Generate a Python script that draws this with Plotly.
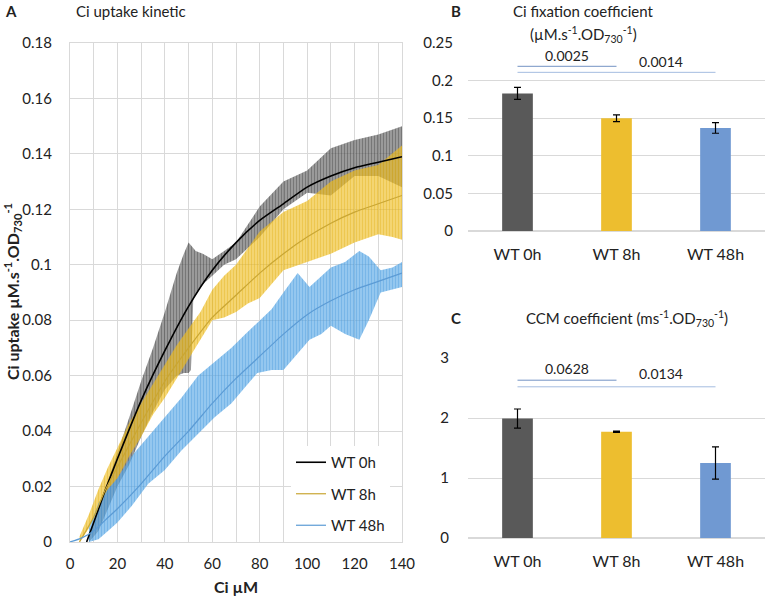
import plotly.graph_objects as go

FONT = "Lato"

# ---- Panel A: Ci uptake kinetic (fitted curves + error envelopes) ----
series_names = ["WT 0h", "WT 8h", "WT 48h"]

x_fit_0h = [7, 10, 15, 20, 30, 40, 50, 60, 70, 80, 90, 100, 110, 120, 130, 140]
y_fit_0h = [0, 0.007, 0.019, 0.030, 0.051, 0.069, 0.085, 0.098, 0.108,
            0.116, 0.122, 0.128, 0.132, 0.135, 0.137, 0.139]

x_fit_8h = [4, 10, 15, 20, 30, 40, 50, 60, 70, 80, 90, 100, 110, 120, 130, 140]
y_fit_8h = [0, 0.009, 0.019, 0.027, 0.043, 0.058, 0.070, 0.081, 0.089,
            0.097, 0.104, 0.110, 0.115, 0.119, 0.122, 0.125]

x_fit_48h = [0, 5, 10, 15, 20, 30, 40, 50, 60, 70, 80, 90, 100, 110, 120, 130, 140]
y_fit_48h = [0, 0.0015, 0.004, 0.008, 0.012, 0.021, 0.031, 0.040, 0.050, 0.059,
             0.067, 0.075, 0.082, 0.087, 0.091, 0.094, 0.097]

# envelopes (mean +/- error)
x_band_0h = [8, 12, 16, 20, 25, 30, 35, 40, 45, 48, 50, 51, 52, 53, 56, 60, 65, 70,
             80, 90, 100, 110, 120, 130, 140]
hi_band_0h = [0.003, 0.012, 0.022, 0.032, 0.045, 0.058, 0.070, 0.083, 0.097, 0.104, 0.108,
              0.107, 0.106, 0.105, 0.104, 0.102, 0.105, 0.108, 0.121, 0.130, 0.134, 0.142,
              0.145, 0.147, 0.150]
lo_band_0h = [0, 0.004, 0.012, 0.020, 0.028, 0.038, 0.047, 0.055, 0.060, 0.061, 0.061,
              0.062, 0.088, 0.089, 0.093, 0.096, 0.100, 0.102, 0.110, 0.120, 0.126, 0.125,
              0.132, 0.132, 0.128]

x_band_8h = [4, 8, 12, 16, 20, 25, 30, 35, 40, 45, 50, 55, 60, 65, 70, 75, 80, 90, 100,
             110, 120, 130, 136, 140]
hi_band_8h = [0.002, 0.010, 0.019, 0.027, 0.034, 0.043, 0.050, 0.057, 0.064, 0.071, 0.077,
              0.083, 0.091, 0.096, 0.100, 0.106, 0.112, 0.119, 0.123, 0.130, 0.134, 0.136,
              0.140, 0.143]
lo_band_8h = [0, 0.005, 0.012, 0.019, 0.023, 0.031, 0.038, 0.046, 0.052, 0.059, 0.066,
              0.073, 0.080, 0.081, 0.083, 0.086, 0.088, 0.098, 0.101, 0.104, 0.108, 0.111,
              0.110, 0.109]

x_band_48h = [8, 12, 16, 20, 26, 33, 40, 47, 54, 61, 68, 74, 79, 85, 90, 96, 101, 106,
              110, 116, 122, 126, 131, 136, 140]
hi_band_48h = [0.005, 0.014, 0.019, 0.023, 0.031, 0.038, 0.045, 0.052, 0.060, 0.065,
               0.070, 0.075, 0.079, 0.084, 0.090, 0.097, 0.092, 0.096, 0.099, 0.101,
               0.105, 0.103, 0.098, 0.099, 0.101]
lo_band_48h = [0, 0.001, 0.004, 0.007, 0.013, 0.021, 0.026, 0.033, 0.039, 0.045, 0.050,
               0.056, 0.061, 0.062, 0.062, 0.068, 0.073, 0.075, 0.078, 0.075, 0.073,
               0.080, 0.090, 0.091, 0.092]

# ---- Panel B: Ci fixation coefficient ----
groups = ["WT 0h", "WT 8h", "WT 48h"]
fix_coef = [0.183, 0.150, 0.137]
fix_err = [0.008, 0.0045, 0.007]
fix_p_values = ["0.0025", "0.0014"]
fix_p_line_y = [0.219, 0.211]
fix_p_text_y = [0.234, 0.226]

# ---- Panel C: CCM coefficient ----
ccm_coef = [1.99, 1.77, 1.25]
ccm_err = [0.16, 0.01, 0.27]
ccm_p_values = ["0.0628", "0.0134"]
ccm_p_line_y = [2.63, 2.52]
ccm_p_text_y = [2.83, 2.75]

line_colors = ["#000000", "#C9A633", "#5B9BD5"]
band_bg = ["rgba(105,105,105,0.62)", "rgba(238,190,35,0.62)", "rgba(90,170,230,0.62)"]
band_fg = ["rgba(55,55,55,0.8)", "rgba(225,172,15,0.75)", "rgba(65,150,220,0.75)"]
bar_colors = ["#595959", "#EDBE2F", "#7099D2"]
sig_colors = ["#7393C4", "#A4BCE0"]

W, H = 767, 601


def px_x(p):
    return p / W


def px_y(p):
    return 1 - p / H


fig = go.Figure()

bands = [(x_band_0h, lo_band_0h, hi_band_0h),
         (x_band_8h, lo_band_8h, hi_band_8h),
         (x_band_48h, lo_band_48h, hi_band_48h)]
for i, (bx, lo, hi) in enumerate(bands):
    fig.add_trace(go.Scatter(
        x=bx + bx[::-1], y=hi + lo[::-1],
        fill="toself", mode="lines", line=dict(width=0),
        fillcolor=band_bg[i],
        fillpattern=dict(shape="|", fgcolor=band_fg[i], bgcolor=band_bg[i],
                         size=3, solidity=0.45, fillmode="overlay"),
        showlegend=False, hoverinfo="skip", xaxis="x", yaxis="y"))

fits = [(x_fit_0h, y_fit_0h, 1.6), (x_fit_8h, y_fit_8h, 1.2), (x_fit_48h, y_fit_48h, 1.2)]
for i, (fx, fy, lw) in enumerate(fits):
    fig.add_trace(go.Scatter(
        x=fx, y=fy, mode="lines", name=series_names[i],
        line=dict(color=line_colors[i], width=lw, shape="spline", smoothing=0.6),
        legendgroup=series_names[i], xaxis="x", yaxis="y"))

# bar panels
for vals, errs, xa, ya in [(fix_coef, fix_err, "x2", "y2"), (ccm_coef, ccm_err, "x3", "y3")]:
    fig.add_trace(go.Bar(
        x=groups, y=vals, marker=dict(color=bar_colors, line=dict(width=0)),
        error_y=dict(type="data", array=errs, color="#000000", thickness=1.2, width=3.5),
        showlegend=False, xaxis=xa, yaxis=ya))

# significance brackets
for p_line_y, xa, ya in [(fix_p_line_y, "x2", "y2"), (ccm_p_line_y, "x3", "y3")]:
    fig.add_trace(go.Scatter(x=[groups[0], groups[1]], y=[p_line_y[0]] * 2, mode="lines",
                             line=dict(color=sig_colors[0], width=1), showlegend=False,
                             hoverinfo="skip", xaxis=xa, yaxis=ya))
    fig.add_trace(go.Scatter(x=[groups[0], groups[2]], y=[p_line_y[1]] * 2, mode="lines",
                             line=dict(color=sig_colors[1], width=1), showlegend=False,
                             hoverinfo="skip", xaxis=xa, yaxis=ya))

annotations = []
for pvals, ty, xr, yr in [(fix_p_values, fix_p_text_y, "x2", "y2"),
                          (ccm_p_values, ccm_p_text_y, "x3", "y3")]:
    annotations.append(dict(x=0.5, y=ty[0], xref=xr, yref=yr, text=pvals[0],
                            showarrow=False, font=dict(size=14)))
    annotations.append(dict(x=1.45, y=ty[1], xref=xr, yref=yr, text=pvals[1],
                            showarrow=False, font=dict(size=14)))


def paper_text(x, y, text, size=15, bold=False, angle=0, xanchor="center"):
    if bold:
        text = "<b>" + text + "</b>"
    annotations.append(dict(x=px_x(x), y=px_y(y), xref="paper", yref="paper", text=text,
                            showarrow=False, font=dict(size=size), textangle=angle,
                            xanchor=xanchor, yanchor="middle"))


paper_text(11, 11, "A", size=15, bold=True)
paper_text(74, 11, "Ci uptake kinetic", size=15, xanchor="left")
paper_text(12, 292, "Ci uptake µM.s<sup>-1</sup>.OD<sub>730</sub><sup>-1</sup>", size=16,
           bold=True, angle=-90)
paper_text(236, 586, "Ci µM", size=16, bold=True)
paper_text(456, 11, "B", size=15, bold=True)
paper_text(583, 11, "Ci fixation coefficient", size=15)
paper_text(583, 35, "(µM.s<sup>-1</sup>.OD<sub>730</sub><sup>-1</sup>)", size=15)
paper_text(456, 318, "C", size=15, bold=True)
paper_text(627, 318, "CCM coefficient (ms<sup>-1</sup>.OD<sub>730</sub><sup>-1</sup>)", size=15)

grid = "#D9D9D9"
tick_font = dict(size=15, color="#222222")

fig.update_layout(
    width=W, height=H,
    margin=dict(l=0, r=0, t=0, b=0, autoexpand=False),
    paper_bgcolor="white", plot_bgcolor="white",
    font=dict(family=FONT, color="#222222"),
    bargap=0.69,
    annotations=annotations,
    xaxis=dict(domain=[px_x(70), px_x(402)], range=[0, 140], dtick=20, tick0=0,
               showgrid=True, gridcolor=grid, gridwidth=1,
               minor=dict(dtick=10, showgrid=True, gridcolor=grid),
               showline=True, linecolor=grid, mirror=True, zeroline=False,
               tickfont=tick_font, ticklabelstandoff=8, automargin=False),
    yaxis=dict(domain=[px_y(542), px_y(43)], range=[0, 0.18], dtick=0.02,
               showgrid=True, gridcolor=grid, showline=True, linecolor=grid,
               mirror=True, zeroline=False, tickfont=tick_font, ticklabelstandoff=14,
               tickformat="~g", automargin=False),
    xaxis2=dict(domain=[px_x(468), px_x(765)], anchor="y2", showgrid=False,
                tickfont=dict(size=16), ticklabelstandoff=12, showline=False,
                automargin=False),
    yaxis2=dict(domain=[px_y(231), px_y(43)], range=[0, 0.25], dtick=0.05, anchor="x2",
                showgrid=True, gridcolor=grid, zeroline=True, zerolinecolor=grid,
                tickfont=tick_font, ticklabelstandoff=14, tickformat="~g",
                automargin=False),
    xaxis3=dict(domain=[px_x(468), px_x(765)], anchor="y3", showgrid=False,
                tickfont=dict(size=16), ticklabelstandoff=12, showline=False,
                automargin=False),
    yaxis3=dict(domain=[px_y(538), px_y(358)], range=[0, 3], dtick=1, anchor="x3",
                showgrid=True, gridcolor=grid, zeroline=True, zerolinecolor=grid,
                tickfont=tick_font, ticklabelstandoff=18, automargin=False),
    legend=dict(x=px_x(291), y=px_y(446), xanchor="left", yanchor="top",
                bgcolor="white", font=dict(size=15), tracegroupgap=9,
                traceorder="grouped", itemwidth=30),
)

# drop the browser's default body margin so the figure sits at the page corner
fig.write_html("out.html", config={"displayModeBar": False},
               post_script="document.body.style.margin='0';")
